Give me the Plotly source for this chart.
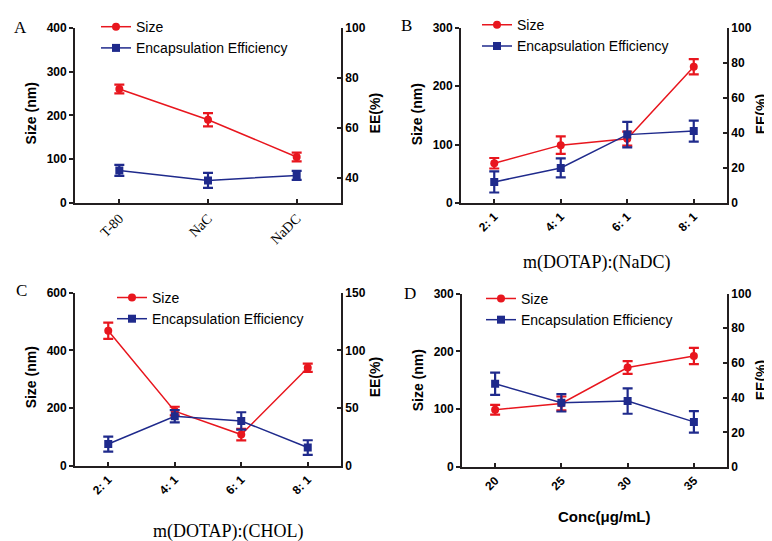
import plotly.graph_objects as go

W, H = 772, 541

# ---------------- data ----------------
a_cats = ["T-80", "NaC", "NaDC"]
a_size = [260, 190, 105]
a_size_err = [10, 15, 10]
a_ee = [43, 39, 41]
a_ee_err = [2.2, 3.0, 1.8]

b_cats = ["2: 1", "4: 1", "6: 1", "8: 1"]
b_size = [68, 99, 110, 233]
b_size_err = [9, 15, 12, 13]
b_ee = [12, 20, 39, 41]
b_ee_err = [6, 5.4, 7.3, 6]

c_cats = ["2: 1", "4: 1", "6: 1", "8: 1"]
c_size = [468, 190, 109, 340]
c_size_err = [28, 15, 20, 14]
c_ee = [19, 43, 39, 16]
c_ee_err = [6.5, 5.3, 7.5, 6.3]

d_cats = ["20", "25", "30", "35"]
d_size = [99, 110, 172, 192]
d_size_err = [8.5, 12, 11, 14]
d_ee = [48, 37, 38, 26]
d_ee_err = [6.4, 5, 7.3, 6.2]

RED = "#e8161e"
BLUE = "#1f2a8c"
AXC = "#231f20"
SANS = "Liberation Sans, Arial, sans-serif"
SERIF = "Liberation Serif, Times New Roman, serif"

def px_x(p):
    return p / W

def px_y(p):
    return 1 - p / H

panels = [
    dict(cats=a_cats, size=a_size, se=a_size_err, ee=a_ee, ee_err=a_ee_err,
         xd=(67, 333), yd=(13, 193), yl=[0, 400], yl_dt=100, yr=[30, 100], yr_ticks=[40, 60, 80, 100],
         tickfont=dict(family=SERIF, size=14, color="black"), leg=(88, -4)),
    dict(cats=b_cats, size=b_size, se=b_size_err, ee=b_ee, ee_err=b_ee_err,
         xd=(453, 719), yd=(13, 193), yl=[0, 300], yl_dt=100, yr=[0, 100], yr_ticks=[0, 20, 40, 60, 80, 100],
         tickfont=dict(family=SANS, size=12, color="black", weight="bold"), leg=(469, -6)),
    dict(cats=c_cats, size=c_size, se=c_size_err, ee=c_ee, ee_err=c_ee_err,
         xd=(67, 333), yd=(285, 463), yl=[0, 600], yl_dt=200, yr=[0, 150], yr_ticks=[0, 50, 100, 150],
         tickfont=dict(family=SANS, size=12, color="black", weight="bold"), leg=(104, 274)),
    dict(cats=d_cats, size=d_size, se=d_size_err, ee=d_ee, ee_err=d_ee_err,
         xd=(454, 719), yd=(286, 464), yl=[0, 300], yl_dt=100, yr=[0, 100], yr_ticks=[0, 20, 40, 60, 80, 100],
         tickfont=dict(family=SANS, size=12, color="black", weight="bold"), leg=(473, 275)),
]

fig = go.Figure()
layout = {}
for i, p in enumerate(panels):
    xn = "" if i == 0 else str(i + 1)
    yl_n = 2 * i + 1
    yr_n = 2 * i + 2
    yl_name = "" if yl_n == 1 else str(yl_n)
    yr_name = str(yr_n)
    leg = "legend" if i == 0 else f"legend{i + 1}"

    fig.add_trace(go.Scatter(
        x=p["cats"], y=p["size"], name="Size", mode="lines+markers",
        line=dict(color=RED, width=1.5), marker=dict(symbol="circle", size=8, color=RED),
        error_y=dict(type="data", array=p["se"], color=RED, thickness=2.2, width=5),
        xaxis="x" + xn, yaxis="y" + yl_name, legend=leg))
    fig.add_trace(go.Scatter(
        x=p["cats"], y=p["ee"], name="Encapsulation Efficiency", mode="lines+markers",
        line=dict(color=BLUE, width=1.5), marker=dict(symbol="square", size=8, color=BLUE),
        error_y=dict(type="data", array=p["ee_err"], color=BLUE, thickness=2.2, width=5),
        xaxis="x" + xn, yaxis="y" + yr_name, legend=leg))

    n = len(p["cats"])
    layout["xaxis" + xn] = dict(
        domain=[px_x(p["xd"][0]), px_x(p["xd"][1])], anchor="y" + yl_name,
        type="category", range=[-0.5, n - 0.5], showline=True, linecolor=AXC, linewidth=1.8,
        ticks="inside", ticklen=4, tickwidth=1.5, tickcolor=AXC, tickangle=-45,
        tickfont=p["tickfont"], showgrid=False, zeroline=False)
    layout["yaxis" + yl_name] = dict(
        domain=[px_y(p["yd"][1]), px_y(p["yd"][0])], anchor="x" + xn,
        range=p["yl"], dtick=p["yl_dt"], tick0=0, showline=True, linecolor=AXC, linewidth=1.8,
        ticks="outside", ticklen=4, tickwidth=1.5, tickcolor=AXC,
        tickfont=dict(family=SANS, size=12, color="black", weight="bold"),
        showgrid=False, zeroline=False)
    layout["yaxis" + yr_name] = dict(
        overlaying="y" + yl_name, side="right", anchor="x" + xn,
        range=p["yr"], tickvals=p["yr_ticks"], showline=True, linecolor=AXC, linewidth=1.8,
        ticks="inside", ticklen=4, tickwidth=1.5, tickcolor=AXC,
        tickfont=dict(family=SANS, size=12, color="black", weight="bold"),
        showgrid=False, zeroline=False)
    layout[leg] = dict(
        x=px_x(p["leg"][0]), y=px_y(p["leg"][1]), xanchor="left", yanchor="top",
        bgcolor="rgba(0,0,0,0)", font=dict(family=SANS, size=14, color="black"),
        tracegroupgap=0)

annotations = []
def ann(text, x, y, size, family, bold=False, angle=0):
    annotations.append(dict(
        text=text, x=px_x(x), y=px_y(y), xref="paper", yref="paper",
        showarrow=False, textangle=angle, xanchor="center", yanchor="middle",
        font=dict(family=family, size=size, color="black", weight="bold" if bold else "normal")))

# panel letters
ann("A", 12, 13, 17, SERIF)
ann("B", 399, 11, 17, SERIF)
ann("C", 13, 283, 17, SERIF)
ann("D", 402, 286, 17, SERIF)
# y titles (rotated annotations render ~7px right of their anchor, so compensate)
for (xl, xr, yc) in [(23, 367, 101), (409, 753, 102), (23, 367, 372), (410, 753, 375)]:
    ann("Size (nm)", xl, yc, 14, SANS, bold=True, angle=-90)
    ann("EE(%)", xr, yc, 14, SANS, bold=True, angle=-90)
# x titles
ann("m(DOTAP):(NaDC)", 589, 254, 18, SERIF)
ann("m(DOTAP):(CHOL)", 220, 530, 18, SERIF)
ann("Conc(μg/mL)", 596, 515, 15, SANS, bold=True)

fig.update_layout(
    width=W, height=H, margin=dict(l=0, r=0, t=0, b=0),
    paper_bgcolor="white", plot_bgcolor="white",
    showlegend=True, annotations=annotations, **layout)

fig.write_html("out.html")
